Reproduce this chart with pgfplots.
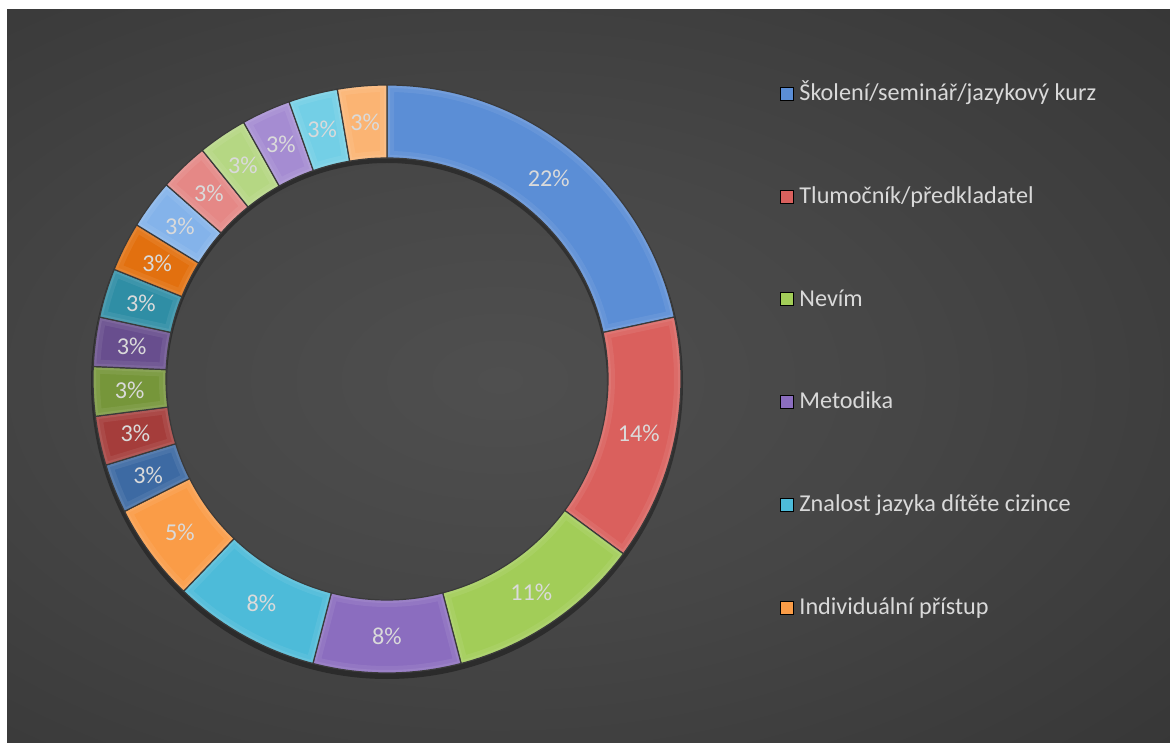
\documentclass[border=0pt]{standalone}
\usepackage{pgfplots}
\pgfplotsset{compat=1.18}
\usepackage{pgfplotstable}
\usepackage{fontspec}
\setmainfont{Carlito}

\definecolor{cA}{HTML}{5B8ED6}
\definecolor{cB}{HTML}{DA605D}
\definecolor{cC}{HTML}{A2CD58}
\definecolor{cD}{HTML}{8B6DBF}
\definecolor{cE}{HTML}{4DBBD9}
\definecolor{cF}{HTML}{FA9C47}
\definecolor{cG}{HTML}{3D6AA3}
\definecolor{cH}{HTML}{A53D3B}
\definecolor{cI}{HTML}{76963A}
\definecolor{cJ}{HTML}{684E8E}
\definecolor{cK}{HTML}{2F8EA5}
\definecolor{cL}{HTML}{E2700F}
\definecolor{cM}{HTML}{84B3EA}
\definecolor{cN}{HTML}{E58886}
\definecolor{cO}{HTML}{B5D783}
\definecolor{cP}{HTML}{A58CD2}
\definecolor{cQ}{HTML}{73CFE6}
\definecolor{cR}{HTML}{FBB473}
\definecolor{bgA}{HTML}{4F4F4F}
\definecolor{bgB}{HTML}{464646}
\definecolor{bgC}{HTML}{3A3A3A}
\definecolor{bgD}{HTML}{2E2E2E}
\definecolor{bgE}{HTML}{262626}
\definecolor{legtext}{HTML}{D9D9D9}
\definecolor{labtext}{HTML}{DADADA}
\definecolor{sep}{HTML}{3A3A3A}

\pgfdeclareradialshading{bgshade}{\pgfpoint{0bp}{0bp}}{color(0bp)=(bgA); color(15bp)=(bgB); color(30bp)=(bgC); color(45bp)=(bgD); color(60bp)=(bgE); color(71bp)=(bgE)}

% counts out of 37 answers, rounded percentage, colour
\pgfplotstableread{
n pct col
8 22 cA
5 14 cB
4 11 cC
3 8 cD
3 8 cE
2 5 cF
1 3 cG
1 3 cH
1 3 cI
1 3 cJ
1 3 cK
1 3 cL
1 3 cM
1 3 cN
1 3 cO
1 3 cP
1 3 cQ
1 3 cR
}\slices

\begin{document}
\begin{tikzpicture}[x=1pt,y=1pt]
\useasboundingbox (0,0) rectangle (1170,742);
\fill[white] (0,0) rectangle (1170,742);
\begin{scope}
\clip (7,0) rectangle (1170,732);
\shade[shading=bgshade] (-180,-38) rectangle (1180,762);
\end{scope}
\begin{axis}[
  at={(387pt,363pt)}, anchor=center,
  scale only axis, width=588pt, height=588pt,
  xmin=-1, xmax=1, ymin=-1, ymax=1,
  hide axis, clip=false,
  legend style={at={(1.1684,1.0056)}, anchor=north west, draw=none, fill=none,
    inner sep=0pt, outer sep=0pt, row sep=78.7pt, column sep=6pt,
    font=\fontsize{24.2}{28}\selectfont,
    nodes={inner sep=0pt, text height=19pt, text depth=5pt, text=legtext}},
  legend cell align=left,
  legend image code/.code={\fill (0pt,-6.5pt) rectangle (13pt,6.5pt);},
]
\addlegendimage{fill=cA}\addlegendentry{Školení/seminář/jazykový kurz}
\addlegendimage{fill=cB}\addlegendentry{Tlumočník/předkladatel}
\addlegendimage{fill=cC}\addlegendentry{Nevím}
\addlegendimage{fill=cD}\addlegendentry{Metodika}
\addlegendimage{fill=cE}\addlegendentry{Znalost jazyka dítěte cizince}
\addlegendimage{fill=cF}\addlegendentry{Individuální přístup}
\pgfplotsextra{
  \begin{scope}[shift={(axis cs:0,0)}]
  \fill[black, opacity=0.35, even odd rule] (0pt,-4pt) circle[radius=296pt] (0pt,-4pt) circle[radius=220pt];
  \pgfplotstablegetrowsof{\slices}\pgfmathtruncatemacro\N{\pgfplotsretval-1}
  \xdef\cum{0}
  \foreach \i in {0,...,\N}{
    \pgfplotstablegetelem{\i}{n}\of{\slices}\let\nn\pgfplotsretval
    \pgfplotstablegetelem{\i}{pct}\of{\slices}\let\pp\pgfplotsretval
    \pgfplotstablegetelem{\i}{col}\of{\slices}\let\scol\pgfplotsretval
    \pgfmathsetmacro\aS{90-\cum*360/37}
    \pgfmathsetmacro\aE{90-(\cum+\nn)*360/37}
    \pgfmathsetmacro\aM{(\aS+\aE)/2}
    \fill[fill=\scol] (\aS:294pt) arc[start angle=\aS, end angle=\aE, radius=294pt]
      -- (\aE:221pt) arc[start angle=\aE, end angle=\aS, radius=221pt] -- cycle;
    \begin{scope}
      \clip (\aS:294pt) arc[start angle=\aS, end angle=\aE, radius=294pt]
        -- (\aE:221pt) arc[start angle=\aE, end angle=\aS, radius=221pt] -- cycle;
      \draw[white, opacity=0.07, line width=14pt] (\aS:294pt) arc[start angle=\aS, end angle=\aE, radius=294pt]
        -- (\aE:221pt) arc[start angle=\aE, end angle=\aS, radius=221pt] -- cycle;
      \draw[white, opacity=0.08, line width=6pt] (\aS:294pt) arc[start angle=\aS, end angle=\aE, radius=294pt]
        -- (\aE:221pt) arc[start angle=\aE, end angle=\aS, radius=221pt] -- cycle;
    \end{scope}
    \draw[sep, line width=1.2pt] (\aS:294pt) arc[start angle=\aS, end angle=\aE, radius=294pt]
      -- (\aE:221pt) arc[start angle=\aE, end angle=\aS, radius=221pt] -- cycle;
    \node[text=labtext, font=\fontsize{24.2}{28}\selectfont, inner sep=0pt] at (\aM:257.5pt) {\pp\%};
    \pgfmathsetmacro\newcum{\cum+\nn}\xdef\cum{\newcum}
  }
  \end{scope}
}
\end{axis}
\end{tikzpicture}
\end{document}
